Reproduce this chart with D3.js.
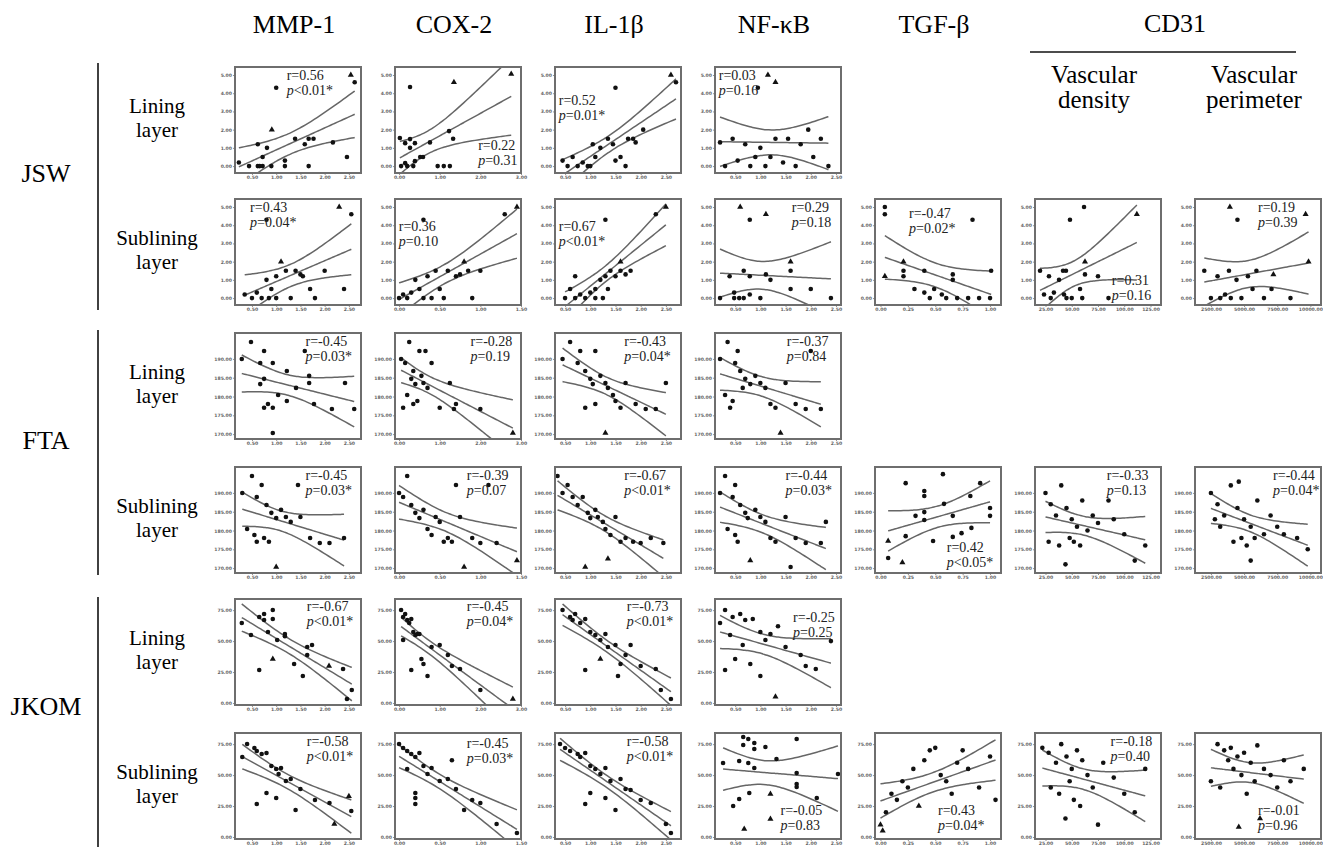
<!DOCTYPE html>
<html>
<head>
<meta charset="utf-8">
<script src="https://cdn.jsdelivr.net/npm/d3@7"></script>
<style>
  body { margin: 0; background: #fff; }
  svg text { font-family: "Liberation Serif", "Times New Roman", serif; }
</style>
</head>
<body>
<svg id="fig" width="1323" height="847"></svg>
<script>
// column titles and row labels
var columns = ["MMP-1", "COX-2", "IL-1β", "NF-κB", "TGF-β"];
var cd31_cols = [["Vascular", "density"], ["Vascular", "perimeter"]];
var groups = ["JSW", "FTA", "JKOM"];
var layers = [["Lining", "layer"], ["Sublining", "layer"]];

// y axes (one per outcome)
var y_jsw_ticks = [0, 1, 2, 3, 4, 5];
var y_fta_ticks = [170, 175, 180, 185, 190];
var y_jkom_ticks = [0, 25, 50, 75];

// x axes (one per marker / layer)
var x_mmp1_ticks = [0.5, 1, 1.5, 2, 2.5];
var x_cox2_lin_ticks = [0, 1, 2, 3];
var x_cox2_sub_ticks = [0, 0.5, 1, 1.5];
var x_il1_ticks = [0.5, 1, 1.5, 2, 2.5];
var x_nfkb_ticks = [0.5, 1, 1.5, 2, 2.5];
var x_tgf_ticks = [0, 0.25, 0.5, 0.75, 1];
var x_vd_ticks = [25, 50, 75, 100, 125];
var x_vp_ticks = [2500, 5000, 7500, 10000];

// points [x, y, triangle?]
// JSW, lining layer
var jsw_lin_mmp1 = [[0.23,0.2],[0.44,0],[0.62,0],[0.66,0],[0.72,0],[0.62,1.2],[0.81,1.0],[0.72,0.5],[0.9,0],[0.91,2.0,1],[1.0,4.3],[1.18,0.3],[1.18,0],[1.39,1.5],[1.59,1.2],[1.67,1.5],[1.77,1.5],[1.67,0],[2.17,1.3],[2.46,0.5],[2.54,5.0,1],[2.62,4.6]];
var jsw_lin_cox2 = [[0.02,1.54],[0.15,1.26],[0.27,1.48],[0.27,1.0],[0.39,1.26],[0.27,4.34],[1.35,4.6,1],[2.76,5.05,1],[1.23,1.92],[1.33,1.5],[0.76,1.3],[0.15,0.16],[0.39,0.27],[0.52,0.5],[0.59,0.5],[0.05,0],[0.2,0],[0.35,0],[0.95,0],[1.1,0],[1.25,0]];
var jsw_lin_il1 = [[0.45,0.3],[0.55,0],[0.65,0.5],[0.75,0],[0.85,0.2],[0.95,0],[1.0,0],[1.1,0.5],[1.05,1.2],[1.2,1.0],[1.5,4.3],[1.35,1.5],[1.45,1.2],[1.5,0.3],[1.6,0.5],[1.75,1.5],[1.85,1.5],[1.9,1.3],[2.05,2.0],[1.7,0],[2.6,5.0,1],[2.7,4.6]];
var jsw_lin_nfkb = [[0.2,1.3],[0.3,0],[0.45,1.5],[0.55,0.3],[0.7,1.2],[0.8,0],[0.9,0.5],[1.0,1.0],[0.95,4.3],[1.15,5.0,1],[1.3,4.6,1],[1.1,0],[1.2,0.5],[1.3,1.5],[1.45,0.2],[1.55,1.5],[1.7,0],[1.8,1.2],[1.95,2.0],[2.05,0.5],[2.2,1.5],[2.35,0]];
// JSW, sublining layer
var jsw_sub_mmp1 = [[0.35,0.2],[0.5,0],[0.6,0.3],[0.7,0],[0.8,1.0],[0.85,0],[0.9,0.5],[1.0,1.2],[1.0,0],[1.1,2.0,1],[0.8,4.3],[1.2,1.5],[1.3,0],[1.4,1.5],[1.5,1.3],[1.55,1.2],[1.7,0.5],[1.8,0],[2.0,1.5],[2.4,0.5],[2.3,5.0,1],[2.55,4.6]];
var jsw_sub_cox2 = [[0.0,0],[0.05,0.2],[0.1,0],[0.15,0.3],[0.2,1.0],[0.25,0.5],[0.3,0],[0.35,1.2],[0.4,0],[0.45,1.5],[0.5,0.5],[0.55,0],[0.6,1.5],[0.7,1.2],[0.75,1.3],[0.8,2.0,1],[0.85,1.5],[0.9,0],[0.3,4.3],[1.0,1.5],[1.45,5.0,1],[1.3,4.6]];
var jsw_sub_il1 = [[0.5,0],[0.6,0.5],[0.7,0],[0.8,0.2],[0.9,0],[1.0,0.3],[1.1,0],[1.1,0.5],[1.2,1.0],[1.25,0],[1.3,1.2],[1.35,0.5],[1.4,1.5],[1.5,1.2],[1.6,1.5],[1.7,1.3],[1.8,1.5],[1.6,2.0,1],[1.3,4.3],[2.3,4.6],[2.5,5.0,1],[0.7,1.2]];
var jsw_sub_nfkb = [[0.6,5.0,1],[0.79,4.3],[1.11,4.6,1],[0.39,1.2],[0.67,1.5],[0.79,1.2],[1.11,1.3],[1.2,1.0],[1.6,2.0,1],[1.6,1.5],[1.6,0.5],[2.0,0.5],[0.2,0],[0.48,0.3],[0.48,0],[0.58,0],[0.67,0],[0.79,0.2],[1.0,0],[2.4,0]];
var jsw_sub_tgf = [[0.04,5.0],[0.04,4.6],[0.84,4.3],[0.04,1.2,1],[0.21,2.0,1],[0.21,1.5],[0.21,1.2],[0.4,1.5],[0.66,1.3],[0.66,1.0],[1.01,1.5],[0.31,0.5],[0.4,0.3],[0.49,0.5],[0.56,0.2],[0.45,0],[0.6,0],[0.7,0],[0.8,0],[0.9,0],[1.0,0]];
var jsw_sub_vd = [[61.7,5.0],[48.3,4.3],[112,4.6,1],[19.8,1.5],[28.3,1.2],[41.7,1.5],[44.5,1.5],[37.9,1.0],[62.6,2.0,1],[62.6,1.3],[75,1.2],[23.6,0.2],[33,0.3],[42.6,0.2],[57.9,0.5],[30,0],[45,0],[60,0],[85,0],[50,0]];
var jsw_sub_vp = [[3930,5.0,1],[4500,4.3],[9640,4.6,1],[9860,2.0,1],[2000,1.5],[3000,1.2],[3860,1.5],[4430,1.0],[5290,1.2],[5930,1.5],[7210,1.3,1],[3570,0.2],[5640,0.5],[7070,0.5],[2500,0],[3200,0],[4000,0],[4800,0],[6500,0],[8500,0]];
// FTA, lining layer
var fta_lin_mmp1 = [[0.29,190.0],[0.48,194.5],[0.75,192.1],[0.67,188.9],[0.93,188.9],[0.75,184.7],[0.67,183.3],[1.22,186.8],[1.59,192.1],[1.68,185.5],[1.68,183.6],[1.41,182.3],[1.04,180.4],[1.22,178.8],[0.75,177.0],[0.83,178.0],[0.93,177.0],[1.78,178.0],[2.15,176.7],[2.42,183.6],[2.61,176.7],[0.93,170.3]];
var fta_lin_cox2 = [[0.05,190],[0.15,188.9],[0.25,194.5],[0.35,186.8],[0.3,184.7],[0.4,183.3],[0.5,192.1],[0.55,185.5],[0.2,180.4],[0.45,178.8],[0.6,183.6],[0.7,182.3],[0.1,177.0],[0.35,178.0],[0.8,188.9],[1.0,177.0],[1.25,183.6],[1.4,178.0],[1.35,176.7],[0.65,192.1],[2.0,176.7],[2.8,170.3,1]];
var fta_lin_il1 = [[0.45,190],[0.6,194.5],[0.75,188.9],[0.8,192.1],[0.9,186.8],[1.0,184.7],[1.05,183.3],[1.1,192.1],[1.2,185.5],[1.3,183.6],[1.35,182.3],[1.45,180.4],[1.5,178.8],[0.9,177.0],[1.1,178.0],[1.6,177.0],[1.7,183.6],[1.9,178.0],[2.1,176.7],[2.3,176.7],[2.5,183.6],[1.3,170.3,1]];
var fta_lin_nfkb = [[0.2,190],[0.35,194.5],[0.5,188.9],[0.55,192.1],[0.6,186.8],[0.7,184.7],[0.8,183.3],[0.9,185.5],[0.3,180.4],[0.45,178.8],[1.0,183.6],[1.1,182.3],[0.4,177.0],[1.2,178.0],[1.3,177.0],[1.5,183.6],[1.7,178.0],[1.9,176.7],[2.0,192.1],[2.2,176.7],[1.4,170.3,1],[0.65,182.3]];
// FTA, sublining layer
var fta_sub_mmp1 = [[0.3,190],[0.5,194.5],[0.6,188.9],[0.7,192.1],[0.8,186.8],[0.9,184.7],[1.0,183.3],[1.1,185.5],[0.4,180.4],[0.55,178.8],[1.2,183.6],[1.3,182.3],[0.6,177.0],[0.75,178.0],[0.85,177.0],[1.5,183.6],[1.7,178.0],[1.9,176.7],[2.1,176.7],[2.4,178],[1.0,170.3,1],[1.45,192.1]];
var fta_sub_cox2 = [[0.0,190],[0.05,188.9],[0.1,194.5],[0.15,186.8],[0.2,184.7],[0.25,183.3],[0.3,185.5],[0.35,180.4],[0.4,178.8],[0.45,183.6],[0.5,182.3],[0.55,177.0],[0.6,178.0],[0.65,177.0],[0.7,192.1],[0.75,183.6],[0.9,178.0],[1.0,176.7],[1.1,192.1],[1.2,176.7],[1.45,172,1],[0.8,170.3,1]];
var fta_sub_il1 = [[0.35,194.5],[0.45,190],[0.55,192.1],[0.65,188.9],[0.75,186.8],[0.85,188.9],[0.95,184.7],[1.0,183.3],[1.1,185.5],[1.15,183.6],[1.25,182.3],[1.3,180.4],[1.4,178.8],[1.5,183.6],[1.6,177.0],[1.7,178.0],[1.85,177.0],[2.0,176.7],[2.2,178.0],[2.45,176.7],[1.35,172.5,1],[0.9,170.3,1]];
var fta_sub_nfkb = [[0.2,190],[0.3,194.5],[0.45,188.9],[0.5,192.1],[0.6,186.8],[0.7,184.7],[0.75,183.3],[0.9,185.5],[0.35,180.4],[0.5,178.8],[1.0,183.6],[1.1,182.3],[0.55,177.0],[1.2,178.0],[1.3,177.0],[1.5,183.6],[1.7,178.0],[1.9,176.7],[2.3,182.3],[2.2,176.7],[0.8,172.0,1],[1.6,170.3]];
var fta_sub_tgf = [[0.57,195.0],[0.23,192.6],[0.4,190.5],[0.4,189.2],[0.91,192.6],[0.82,189.2],[0.58,187.1],[0.32,183.9],[0.4,184.9],[0.4,182.8],[0.66,183.9],[1.0,186.0],[1.0,183.9],[0.07,177.2,1],[0.23,178.5],[0.48,177.2],[0.66,178.3],[0.74,179.3],[0.83,180.7],[0.07,172.7],[0.2,171.5,1]];
var fta_sub_vd = [[25,190],[30,187],[35,184],[40,192],[45,186],[50,183],[55,181],[60,188],[65,180],[70,184],[28,177],[38,176],[48,178],[52,177],[58,176],[75,182],[85,188],[90,183],[100,179],[120,176],[110,172],[44,171]];
var fta_sub_vp = [[2500,190],[3000,187],[3500,184],[4000,192],[4500,186],[5000,183],[5500,181],[6000,188],[6500,179],[3200,181],[4200,177],[4800,178],[5200,176],[5800,178],[7000,184],[7500,181],[8000,179],[9000,178],[9800,175],[4600,193],[5500,172],[2800,183]];
// JKOM, lining layer
var jkom_lin_mmp1 = [[0.29,64.6],[0.48,54.9],[0.65,69.5],[0.75,71.9],[0.75,67.0],[0.93,75.1],[0.93,67.8],[0.83,57.4],[1.02,50.9],[1.18,55.7],[1.18,54.0],[0.65,26.7],[0.93,35.5,1],[1.37,31.5],[1.64,45.2],[1.74,46.9],[1.64,38.8],[1.55,21.8],[2.09,29.9,1],[2.38,27.5],[2.56,10.5],[2.46,3.2]];
var jkom_lin_cox2 = [[0.05,75.1],[0.1,69.5],[0.15,71.9],[0.2,67.0],[0.25,64.6],[0.3,67.8],[0.35,57.4],[0.4,54.9],[0.1,50.9],[0.45,55.7],[0.5,55.7],[0.3,26.7],[0.55,35.5],[0.6,31.5],[0.8,45.2],[1.0,46.9],[1.2,38.8],[0.7,21.8],[1.3,29.9],[1.5,27.5],[2.0,10.5],[2.8,3.2,1]];
var jkom_lin_il1 = [[0.45,75.1],[0.6,69.5],[0.7,71.9],[0.65,67.0],[0.8,64.6],[0.9,67.8],[1.0,57.4],[1.1,54.9],[1.2,50.9],[1.3,55.7],[1.35,45.2],[0.9,26.7],[1.2,35.5,1],[1.6,31.5],[1.5,46.9],[1.7,38.8],[1.55,21.8],[2.0,29.9],[2.3,27.5],[2.4,10.5],[2.6,3.2],[1.8,46.9]];
var jkom_lin_nfkb = [[0.3,75.1],[0.45,69.5],[0.6,71.9],[0.7,67.0],[0.2,64.6],[0.85,67.8],[1.0,57.4],[0.4,54.9],[1.1,50.9],[1.2,55.7],[1.35,62],[0.3,26.7],[0.5,35.5],[0.8,31.5],[1.5,45.2],[0.65,46.9],[1.8,38.8],[1.0,21.8],[1.9,29.9],[2.1,27.5],[1.3,5,1],[2.4,50]];
// JKOM, sublining layer
var jkom_sub_mmp1 = [[0.4,75.1],[0.55,71.9],[0.6,69.5],[0.7,67.0],[0.3,64.6],[0.8,67.8],[0.9,57.4],[1.0,54.9],[1.05,50.9],[1.1,55.7],[1.2,45.2],[0.6,26.7],[0.8,35.5],[1.0,31.5],[1.3,46.9],[1.5,38.8],[1.4,21.8],[1.8,29.9],[2.1,27.5],[2.2,10.5,1],[2.5,33,1],[2.55,21]];
var jkom_sub_cox2 = [[0.0,75.1],[0.05,71.9],[0.1,69.5],[0.15,67.0],[0.2,64.6],[0.25,67.8],[0.3,57.4],[0.1,54.9],[0.35,50.9],[0.4,55.7],[0.5,45.2],[0.2,26.7],[0.2,35.5],[0.2,31.5],[0.6,46.9],[0.7,38.8],[0.8,21.8],[0.9,29.9],[1.0,27.5],[1.2,10.5],[1.45,3.2],[0.65,62]];
var jkom_sub_il1 = [[0.4,75.1],[0.5,71.9],[0.6,69.5],[0.75,67.0],[0.8,64.6],[0.9,67.8],[1.0,57.4],[1.1,54.9],[1.2,50.9],[1.3,55.7],[1.4,45.2],[0.9,26.7],[1.0,35.5],[1.3,31.5],[1.6,46.9],[1.7,38.8],[1.5,21.8],[2.0,29.9],[2.2,27.5],[2.5,10.5],[2.6,3.2],[1.8,38]];
var jkom_sub_nfkb = [[0.66,80.8],[0.76,79.2],[0.88,75.9],[0.66,74.3],[0.88,71.1],[1.1,72.7],[1.72,79.2],[0.26,59.8],[0.58,61.4],[0.76,59.8],[0.88,55.7],[1.32,63.0],[1.72,51.7],[1.72,42.8],[1.72,40.4],[2.54,50.9],[2.12,31.5],[0.58,30.7],[0.46,25.0],[0.78,35.5],[1.2,34.7,1],[1.2,14.5,1],[0.68,6.5,1]];
var jkom_sub_tgf = [[0.0,10,1],[0.02,5,1],[0.05,20],[0.1,35],[0.15,30],[0.2,45],[0.25,40],[0.3,55],[0.35,25,1],[0.4,62],[0.45,70],[0.5,72],[0.55,50],[0.6,45],[0.65,35],[0.7,60],[0.8,55],[0.9,40],[1.0,65],[1.05,30],[0.75,70]];
var jkom_sub_vd = [[22,72],[28,68],[35,60],[40,75],[45,65],[50,55],[55,70],[60,62],[30,40],[38,35],[48,45],[52,30],[58,25],[65,50],[70,40],[80,60],[90,48],[100,35],[110,20],[120,55],[75,10],[44,15]];
var jkom_sub_vp = [[3000,75],[3500,70],[4000,72],[4500,65],[5000,68],[5500,60],[6000,74],[2500,45],[3200,40],[4200,55],[4800,50],[5200,35],[5800,45],[6500,55],[7000,50],[7500,40],[8500,45],[9500,55],[4600,8,1],[6200,15,1],[3800,62],[8000,62]];

// correlation results
var r_vals = ["0.56","0.22","0.52","0.03", "0.43","0.36","0.67","0.29","-0.47","0.31","0.19",
              "-0.45","-0.28","-0.43","-0.37", "-0.45","-0.39","-0.67","-0.44","0.42","-0.33","-0.44",
              "-0.67","-0.45","-0.73","-0.25", "-0.58","-0.45","-0.58","-0.05","0.43","-0.18","-0.01"];
var p_vals = ["<0.01*","=0.31","=0.01*","=0.16", "=0.04*","=0.10","<0.01*","=0.18","=0.02*","=0.16","=0.39",
              "=0.03*","=0.19","=0.04*","=0.84", "=0.03*","=0.07","<0.01*","=0.03*","<0.05*","=0.13","=0.04*",
              "<0.01*","=0.04*","<0.01*","=0.25", "<0.01*","=0.03*","<0.01*","=0.83","=0.04*","=0.40","=0.96"];

var point_sets = [jsw_lin_mmp1, jsw_lin_cox2, jsw_lin_il1, jsw_lin_nfkb,
  jsw_sub_mmp1, jsw_sub_cox2, jsw_sub_il1, jsw_sub_nfkb, jsw_sub_tgf, jsw_sub_vd, jsw_sub_vp,
  fta_lin_mmp1, fta_lin_cox2, fta_lin_il1, fta_lin_nfkb,
  fta_sub_mmp1, fta_sub_cox2, fta_sub_il1, fta_sub_nfkb, fta_sub_tgf, fta_sub_vd, fta_sub_vp,
  jkom_lin_mmp1, jkom_lin_cox2, jkom_lin_il1, jkom_lin_nfkb,
  jkom_sub_mmp1, jkom_sub_cox2, jkom_sub_il1, jkom_sub_nfkb, jkom_sub_tgf, jkom_sub_vd, jkom_sub_vp];

// ---- layout ----
var col_left = [235, 395, 555, 715, 875, 1035, 1195];
var row_top = [67, 199, 333, 467, 599, 733];
var pw = 126, ph = 106;

var xaxes = {
  mmp1: {dom: [0.15, 2.75], ticks: x_mmp1_ticks},
  cox2l: {dom: [-0.1, 3.0], ticks: x_cox2_lin_ticks},
  cox2s: {dom: [-0.05, 1.5], ticks: x_cox2_sub_ticks},
  il1: {dom: [0.3, 2.8], ticks: x_il1_ticks},
  nfkb: {dom: [0.1, 2.6], ticks: x_nfkb_ticks},
  tgf: {dom: [-0.05, 1.1], ticks: x_tgf_ticks},
  vd: {dom: [15, 135], ticks: x_vd_ticks},
  vp: {dom: [1300, 10800], ticks: x_vp_ticks}
};
var yaxes = [
  {dom: [-0.38, 5.44], ticks: y_jsw_ticks},
  {dom: [168.7, 196.9], ticks: y_fta_ticks},
  {dom: [-1.6, 84], ticks: y_jkom_ticks}
];
var lin_x = ["mmp1", "cox2l", "il1", "nfkb"];
var sub_x = ["mmp1", "cox2s", "il1", "nfkb", "tgf", "vd", "vp"];

// label anchor [fx, fy] in panel fractions
var label_pos = [[0.41,0.12],[0.66,0.78],[0.03,0.36],[0.03,0.12],
  [0.12,0.12],[0.03,0.3],[0.03,0.3],[0.61,0.12],[0.27,0.18],[0.61,0.81],[0.5,0.12],
  [0.56,0.12],[0.6,0.12],[0.55,0.12],[0.57,0.12],
  [0.56,0.12],[0.57,0.12],[0.55,0.12],[0.56,0.12],[0.57,0.8],[0.57,0.12],[0.62,0.12],
  [0.57,0.11],[0.57,0.11],[0.57,0.11],[0.62,0.22],
  [0.57,0.12],[0.57,0.14],[0.57,0.12],[0.52,0.77],[0.5,0.77],[0.6,0.12],[0.5,0.77]];

// build panel list
var panels = [];
(function(){
  var k = 0;
  for (var g = 0; g < 3; g++) {
    for (var l = 0; l < 2; l++) {
      var keys = l == 0 ? lin_x : sub_x;
      for (var c = 0; c < keys.length; c++) {
        panels.push({row: g*2 + l, col: c, group: g, xa: xaxes[keys[c]], pts: point_sets[k],
          r: r_vals[k], p: p_vals[k], lp: label_pos[k]});
        k++;
      }
    }
  }
})();

var svg = d3.select("#fig");

// headers
for (var i = 0; i < columns.length; i++) {
  svg.append("text").attr("x", col_left[i] + pw/2 - 4).attr("y", 33)
    .attr("text-anchor", "middle").style("font-size", "26px").text(columns[i]);
}
svg.append("text").attr("x", 1175).attr("y", 32).attr("text-anchor", "middle")
  .style("font-size", "26px").text("CD31");
svg.append("line").attr("x1", 1030).attr("x2", 1296).attr("y1", 52).attr("y2", 52)
  .style("stroke", "#111").style("stroke-width", 1.6);
for (var i = 0; i < 2; i++) {
  var cx = col_left[5 + i] + pw/2 - 4;
  svg.append("text").attr("x", cx).attr("y", 83).attr("text-anchor", "middle")
    .style("font-size", "25px").text(cd31_cols[i][0]);
  svg.append("text").attr("x", cx).attr("y", 108).attr("text-anchor", "middle")
    .style("font-size", "25px").text(cd31_cols[i][1]);
}

// group labels and brackets
var group_lines = [[63, 310], [330, 575], [597, 847]];
for (var g = 0; g < 3; g++) {
  var mid = (row_top[g*2] + row_top[g*2+1] + ph) / 2;
  svg.append("text").attr("x", 46).attr("y", mid - 4).attr("text-anchor", "middle")
    .style("font-size", "26px").text(groups[g]);
  svg.append("line").attr("x1", 98).attr("x2", 98)
    .attr("y1", group_lines[g][0]).attr("y2", group_lines[g][1])
    .style("stroke", "#111").style("stroke-width", 1.6);
}
for (var r = 0; r < 6; r++) {
  var cy = row_top[r] + ph/2;
  var lab = layers[r % 2];
  svg.append("text").attr("x", 157).attr("y", cy - 7).attr("text-anchor", "middle")
    .style("font-size", "21px").text(lab[0]);
  svg.append("text").attr("x", 157).attr("y", cy + 17).attr("text-anchor", "middle")
    .style("font-size", "21px").text(lab[1]);
}

var fmt = d3.format(".2f");
var tcrit = 2.09;

function fit(pts) {
  var n = pts.length;
  var mx = d3.mean(pts, d => d[0]), my = d3.mean(pts, d => d[1]);
  var sxx = d3.sum(pts, d => (d[0]-mx)*(d[0]-mx));
  var sxy = d3.sum(pts, d => (d[0]-mx)*(d[1]-my));
  var b = sxy / sxx, a = my - b*mx;
  var sse = d3.sum(pts, d => Math.pow(d[1] - a - b*d[0], 2));
  var s = Math.sqrt(sse / (n - 2));
  return {a: a, b: b, s: s, n: n, mx: mx, sxx: sxx};
}

panels.forEach(function(p, idx) {
  var g = svg.append("g").attr("transform", "translate(" + col_left[p.col] + "," + row_top[p.row] + ")");
  var x = d3.scaleLinear().domain(p.xa.dom).range([0, pw]);
  var ya = yaxes[p.group];
  var y = d3.scaleLinear().domain(ya.dom).range([ph, 0]);

  // axes
  var yAxis = d3.axisLeft(y).tickValues(ya.ticks).tickFormat(fmt).tickSize(2).tickPadding(1);
  var xAxis = d3.axisBottom(x).tickValues(p.xa.ticks).tickFormat(fmt).tickSize(2).tickPadding(1);
  var ga = g.append("g").call(yAxis);
  var gb = g.append("g").attr("transform", "translate(0," + ph + ")").call(xAxis);
  [ga, gb].forEach(function(a) {
    a.select(".domain").remove();
    a.selectAll("line").style("stroke", "#777").style("stroke-width", 0.8);
    a.selectAll("text").style("font-size", "4.6px").style("font-family", "DejaVu Sans, sans-serif")
      .style("fill", "#666").style("font-weight", "bold");
  });

  var cid = "clip" + idx;
  g.append("clipPath").attr("id", cid).append("rect").attr("width", pw).attr("height", ph);

  // regression + 95% CI of the mean
  var f = fit(p.pts);
  var ext = d3.extent(p.pts, d => d[0]);
  var xs = d3.range(41).map(function(i) { return ext[0] + (ext[1] - ext[0]) * i / 40; });
  var band = function(sign) {
    return xs.map(function(xv) {
      var yh = f.a + f.b * xv;
      var se = f.s * Math.sqrt(1/f.n + (xv - f.mx)*(xv - f.mx)/f.sxx);
      return [xv, yh + sign * tcrit * se];
    });
  };
  var line = d3.line().x(d => x(d[0])).y(d => y(d[1])).curve(d3.curveBasis);
  var lg = g.append("g").attr("clip-path", "url(#" + cid + ")");
  [-1, 0, 1].forEach(function(sg) {
    lg.append("path").datum(band(sg)).attr("d", line)
      .style("fill", "none").style("stroke", "#666").style("stroke-width", 1.5);
  });

  // points
  var tri = d3.symbol().type(d3.symbolTriangle).size(16);
  p.pts.forEach(function(d) {
    if (d[2]) {
      g.append("path").attr("d", tri).attr("transform", "translate(" + x(d[0]) + "," + y(d[1]) + ")")
        .style("fill", "#111");
    } else {
      g.append("circle").attr("cx", x(d[0])).attr("cy", y(d[1])).attr("r", 2.3).style("fill", "#111");
    }
  });

  // frame
  g.append("rect").attr("width", pw).attr("height", ph)
    .style("fill", "none").style("stroke", "#6e6e6e").style("stroke-width", 2);

  // r and p labels
  var tx = p.lp[0] * pw, ty = p.lp[1] * ph;
  g.append("text").attr("x", tx).attr("y", ty).style("font-size", "14px").style("fill", "#222")
    .text("r=" + p.r);
  var pt = g.append("text").attr("x", tx).attr("y", ty + 15).style("font-size", "14px").style("fill", "#222");
  pt.append("tspan").style("font-style", "italic").text("p");
  pt.append("tspan").text(p.p);
});
</script>
</body>
</html>
